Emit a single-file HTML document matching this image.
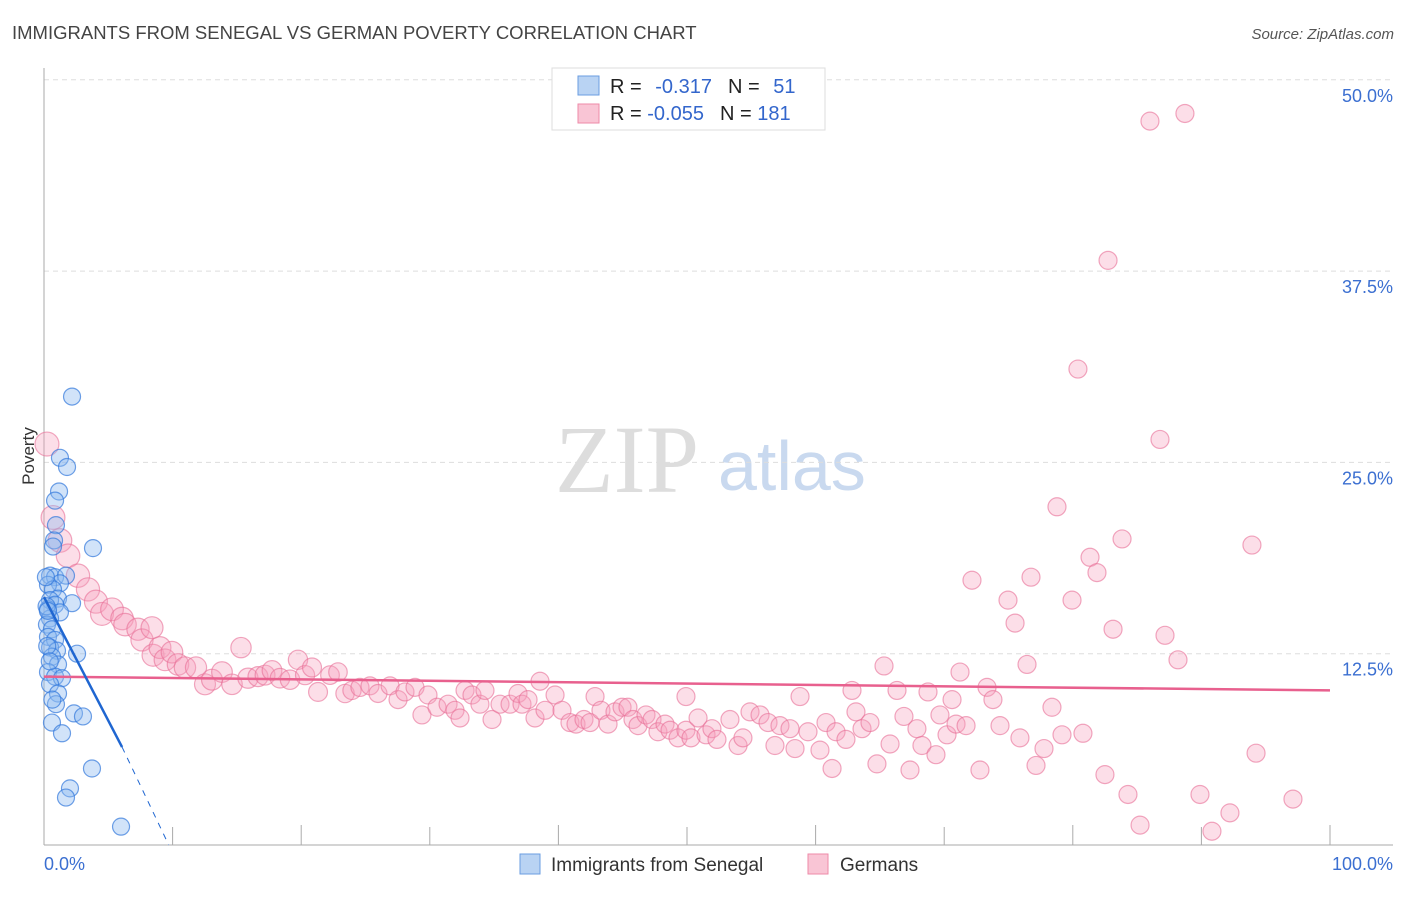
<!DOCTYPE html>
<html><head><meta charset="utf-8"><style>
body{margin:0;background:#fff;width:1406px;height:892px;overflow:hidden;font-family:"Liberation Sans",sans-serif}
</style></head><body>
<svg id="chart" width="1406" height="892" xmlns="http://www.w3.org/2000/svg" font-family="Liberation Sans, sans-serif">
<text x="12" y="39" font-size="18.5" fill="#444">IMMIGRANTS FROM SENEGAL VS GERMAN POVERTY CORRELATION CHART</text>
<text x="1394" y="39" font-size="15" fill="#555" text-anchor="end" font-style="italic">Source: ZipAtlas.com</text>
<g>
<text x="555" y="492" font-size="96" fill="#ddd" font-family="Liberation Serif, serif">ZIP</text>
<text x="718" y="490" font-size="70" fill="#c9d9ef">atlas</text>
</g>
<g id="grid"></g>
<g id="axes"></g>
<g id="pts"></g>
<g id="trends"></g>
<text transform="translate(34,456) rotate(-90)" font-size="17" fill="#333" text-anchor="middle">Poverty</text>
<g>
<rect x="552" y="68" width="273" height="62" fill="#fff" stroke="#ddd"/>
<rect x="578" y="76" width="21" height="19" fill="#b9d3f3" stroke="#6a9de0"/>
<rect x="578" y="104" width="21" height="19" fill="#f9c5d5" stroke="#ee8aa8"/>
<text x="610" y="93" font-size="20" fill="#222">R = <tspan fill="#3366cc" dx="8">-0.317</tspan><tspan dx="16" fill="#222">N = </tspan><tspan dx="8" fill="#3366cc">51</tspan></text>
<text x="610" y="120" font-size="20" fill="#222">R = <tspan fill="#3366cc">-0.055</tspan><tspan dx="16" fill="#222">N = </tspan><tspan fill="#3366cc">181</tspan></text>
</g>
<g>
<rect x="520" y="854" width="20" height="20" fill="#b9d3f3" stroke="#6a9de0"/>
<text x="551" y="871" font-size="19" fill="#333">Immigrants from Senegal</text>
<rect x="808" y="854" width="20" height="20" fill="#f9c5d5" stroke="#ee8aa8"/>
<text x="840" y="871" font-size="19" fill="#333">Germans</text>
</g>
</svg>
<script>
const yTicks=[12.5,25,37.5,50];
const yTickLabels=["12.5%","25.0%","37.5%","50.0%"];
const xTickVals=[0,10,20,30,40,50,60,70,80,90,100];
const blueX=[2.18,1.24,1.79,1.17,0.86,0.93,0.78,3.81,0.70,0.47,0.86,1.71,1.24,0.31,0.70,1.09,0.47,2.18,0.86,0.31,1.24,0.47,0.23,0.62,0.31,0.86,0.47,1.01,2.57,0.62,1.09,0.31,0.86,1.40,0.47,1.09,0.93,2.33,3.03,0.62,1.40,3.73,2.02,1.71,5.99,0.15,0.2,0.3,0.25,0.45,0.65];
const blueY=[29.3,25.3,24.7,23.1,22.5,20.9,19.9,19.4,19.5,17.6,17.5,17.6,17.1,17.0,16.7,16.1,16.0,15.8,15.7,15.4,15.2,14.8,14.4,14.1,13.6,13.4,12.9,12.7,12.5,12.3,11.8,11.3,11.0,10.9,10.5,9.9,9.2,8.6,8.4,8.0,7.3,5.0,3.7,3.1,1.2,17.5,15.6,15.3,13.0,12.0,9.5];
const pinkX=[0.23,0.70,1.24,1.87,2.64,3.42,4.04,4.51,5.29,6.07,6.30,7.31,7.62,8.40,8.48,9.02,9.41,9.95,10.42,10.96,11.82,12.52,13.06,13.84,14.62,15.32,15.86,16.64,17.19,17.73,18.35,19.13,19.75,20.30,20.84,21.31,22.24,22.86,23.41,23.95,24.57,25.35,25.97,26.91,27.53,28.07,28.85,29.39,29.86,30.56,31.42,31.96,32.35,32.74,33.28,33.90,34.29,34.84,35.46,36.24,36.86,37.17,37.64,38.18,38.57,38.96,39.74,40.28,40.90,41.37,41.99,42.46,42.85,43.31,43.86,44.40,44.95,45.41,45.80,46.19,46.81,47.28,47.74,48.29,48.68,49.30,49.92,50.31,49.92,50.86,51.48,51.94,52.33,53.34,53.97,54.35,54.90,55.68,56.30,56.84,57.23,58.01,58.40,58.79,59.41,60.34,60.81,61.28,61.59,62.36,62.83,63.14,63.61,64.23,64.77,65.32,65.79,66.33,66.87,67.34,67.88,68.27,68.74,69.36,69.67,70.22,70.61,70.92,71.23,71.70,72.16,72.78,73.33,73.79,74.34,74.96,75.51,75.89,76.44,76.75,77.14,77.76,78.38,78.77,79.16,79.94,80.40,80.79,81.34,81.88,82.50,82.74,83.13,83.83,84.29,85.23,86.00,86.78,87.17,88.18,88.72,89.89,90.82,92.22,93.93,94.25,97.12];
const pinkY=[26.2,21.4,19.9,18.9,17.6,16.7,15.9,15.1,15.4,14.8,14.4,14.1,13.4,14.2,12.4,12.9,12.1,12.6,11.8,11.6,11.6,10.5,10.8,11.3,10.5,12.9,10.9,11.0,11.1,11.4,10.9,10.8,12.1,11.1,11.6,10.0,11.1,11.3,9.9,10.1,10.3,10.4,9.9,10.4,9.5,10.0,10.3,8.5,9.8,9.0,9.2,8.8,8.3,10.1,9.8,9.2,10.1,8.2,9.2,9.2,9.9,9.2,9.5,8.3,10.7,8.8,9.8,8.8,8.0,7.9,8.2,8.0,9.7,8.8,7.9,8.7,9.0,9.0,8.2,7.8,8.5,8.2,7.4,7.9,7.5,7.0,7.5,7.0,9.7,8.3,7.2,7.6,6.9,8.2,6.5,7.0,8.7,8.5,8.0,6.5,7.8,7.6,6.3,9.7,7.4,6.2,8.0,5.0,7.4,6.9,10.1,8.7,7.6,8.0,5.3,11.7,6.6,10.1,8.4,4.9,7.6,6.5,10.0,5.9,8.5,7.2,9.5,7.9,11.3,7.8,17.3,4.9,10.3,9.5,7.8,16.0,14.5,7.0,11.8,17.5,5.2,6.3,9.0,22.1,7.2,16.0,31.1,7.3,18.8,17.8,4.6,38.2,14.1,20.0,3.3,1.3,47.3,26.5,13.7,12.1,47.8,3.3,0.9,2.1,19.6,6.0,3.0];
const pinkTrend=[11.0,10.1];
const blueTrendStart=16.2, blueTrendSolidEnd=[6.07,6.4], blueTrendZero=9.7;
const NS="http://www.w3.org/2000/svg";
const X0=44,X1=1330,Y0=845,PXY=191.3/12.5;
const sx=v=>X0+(X1-X0)*v/100, sy=v=>Y0-v*PXY;
function mk(tag,attrs,parent){const e=document.createElementNS(NS,tag);for(const k in attrs)e.setAttribute(k,attrs[k]);parent.appendChild(e);return e;}
const grid=document.getElementById('grid'),axes=document.getElementById('axes'),pts=document.getElementById('pts'),tr=document.getElementById('trends');
yTicks.forEach((t,i)=>{
  const l=mk('line',{x1:X0,x2:1393,y1:sy(t),y2:sy(t),stroke:'#ddd','stroke-dasharray':'5,4'},grid);
  
  
  const tx=mk('text',{x:1393,y:sy(t)+22,'font-size':18,fill:'#3b6fd1','text-anchor':'end'},axes);
  tx.textContent=yTickLabels[i];
  
  
});
const ya=mk('line',{x1:X0,x2:X0,y1:68,y2:Y0,stroke:'#aaa'},axes);


const xa=mk('line',{x1:X0,x2:1393,y1:Y0,y2:Y0,stroke:'#aaa'},axes);


xTickVals.forEach((v,i)=>{
  if(i===0)return;
  const tk=mk('line',{x1:sx(v),x2:sx(v),y1:Y0-(i%2?18:20),y2:Y0,stroke:'#aaa'},axes);
  
  
});
const xl0=mk('text',{x:X0,y:870,'font-size':18,fill:'#3b6fd1'},axes);xl0.textContent='0.0%';


const xl1=mk('text',{x:1393,y:870,'font-size':18,fill:'#3b6fd1','text-anchor':'end'},axes);xl1.textContent='100.0%';


pinkX.forEach((x,i)=>{
  const r=9+3*Math.max(0,(25-x)/25);
  const c=mk('circle',{cx:sx(x),cy:sy(pinkY[i]),r:r,fill:'rgba(246,160,188,0.35)',stroke:'rgba(232,110,150,0.6)','stroke-width':1.2},pts);
  
  
});
blueX.forEach((x,i)=>{
  const c=mk('circle',{cx:sx(x),cy:sy(blueY[i]),r:8.5,fill:'rgba(140,185,240,0.4)',stroke:'rgba(50,120,220,0.7)','stroke-width':1.2},pts);
  
  
});
const pl=mk('line',{x1:sx(0),y1:sy(pinkTrend[0]),x2:sx(100),y2:sy(pinkTrend[1]),stroke:'#e8608e','stroke-width':2.5},tr);


const bl=mk('line',{x1:sx(0),y1:sy(blueTrendStart),x2:sx(blueTrendSolidEnd[0]),y2:sy(blueTrendSolidEnd[1]),stroke:'#1f66d1','stroke-width':2.5},tr);


const bd=mk('line',{x1:sx(blueTrendSolidEnd[0]),y1:sy(blueTrendSolidEnd[1]),x2:sx(blueTrendZero),y2:sy(0),stroke:'#1f66d1','stroke-width':1,'stroke-dasharray':'6,6'},tr);


</script>
</body></html>
